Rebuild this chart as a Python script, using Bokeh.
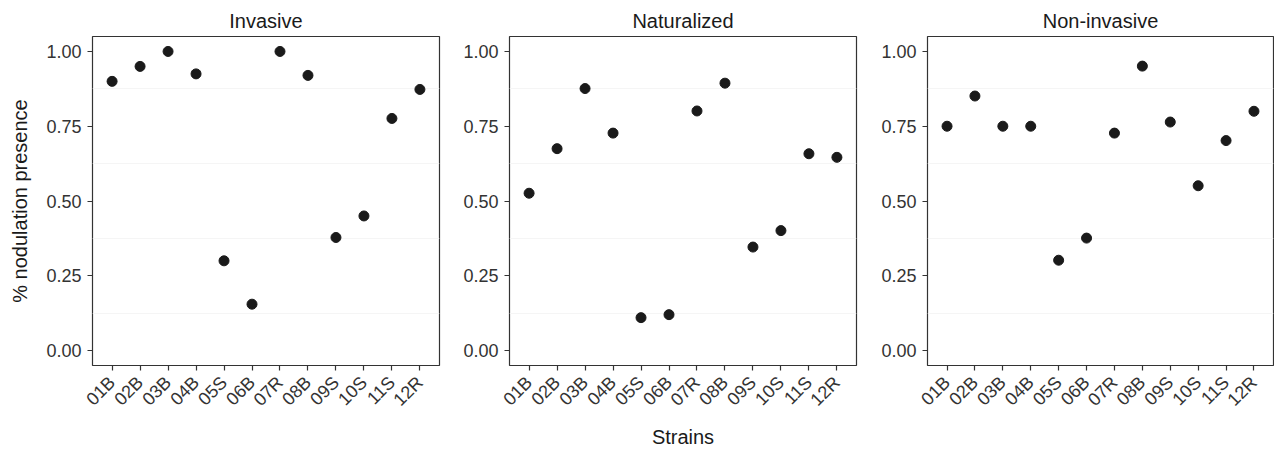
import math
from bokeh.plotting import figure
from bokeh.models import FactorRange, Range1d, FixedTicker
from bokeh.layouts import row
from bokeh.embed import file_html
from bokeh.resources import INLINE

# ---------------- data ----------------
strains = ["01B", "02B", "03B", "04B", "05S", "06B", "07R", "08B", "09S", "10S", "11S", "12R"]
panel_titles = ["Invasive", "Naturalized", "Non-invasive"]
invasive = [0.90, 0.95, 1.00, 0.925, 0.30, 0.155, 1.00, 0.92, 0.378, 0.45, 0.776, 0.873]
naturalized = [0.526, 0.675, 0.876, 0.727, 0.110, 0.120, 0.801, 0.894, 0.346, 0.401, 0.658, 0.646]
non_invasive = [0.75, 0.851, 0.75, 0.75, 0.302, 0.376, 0.727, 0.951, 0.764, 0.551, 0.702, 0.80]
y_ticks = [0.0, 0.25, 0.5, 0.75, 1.0]
y_tick_labels = ["0.00", "0.25", "0.50", "0.75", "1.00"]
y_minor = [0.125, 0.375, 0.625, 0.875]
y_label = "% nodulation presence"
x_label = "Strains"

FONT = "Liberation Sans"
TEXT = "#1a1a1a"
TICKTXT = "#333333"
series = [invasive, naturalized, non_invasive]

# per-panel layout: (width, min_border_left, min_border_right)
dims = [(455, 92, 16), (419, 54, 18), (400, 53, 1)]
HEIGHT = 450
TOP = 36
BOTTOM = HEIGHT - TOP - 339


def make_panel(i):
    w, bl, br = dims[i]
    p = figure(width=w, height=HEIGHT, output_backend="svg", toolbar_location=None,
               x_range=FactorRange(factors=strains, range_padding=0.2, range_padding_units="absolute"),
               y_range=Range1d(-0.05, 1.05),
               min_border_left=bl, min_border_right=br, min_border_top=TOP, min_border_bottom=BOTTOM,
               tools="")
    p.title.text = panel_titles[i]
    p.title.align = "center"
    p.title.text_font = FONT
    p.title.text_font_size = "20px"
    p.title.text_font_style = "normal"
    p.title.text_color = TEXT
    p.title.standoff = 9

    p.background_fill_color = "white"
    p.border_fill_color = "white"
    p.outline_line_color = "#333333"
    p.outline_line_width = 1.2

    p.xgrid.grid_line_color = None
    p.ygrid.grid_line_color = None
    p.ygrid.minor_grid_line_color = "#f5f5f5"
    p.ygrid.minor_grid_line_width = 1

    p.yaxis.ticker = FixedTicker(ticks=y_ticks, minor_ticks=y_minor)
    p.yaxis.major_label_overrides = {t: lab for t, lab in zip(y_ticks, y_tick_labels)}

    for ax in (p.xaxis[0], p.yaxis[0]):
        ax.axis_line_color = None
        ax.major_tick_line_color = "#333333"
        ax.major_tick_line_width = 1.2
        ax.major_tick_in = 0
        ax.major_tick_out = 5
        ax.minor_tick_line_color = None
        ax.major_label_text_font = FONT
        ax.major_label_text_font_size = "18px"
        ax.major_label_text_color = TICKTXT
        ax.axis_label_text_font = FONT
        ax.axis_label_text_font_size = "20px"
        ax.axis_label_text_font_style = "normal"
        ax.axis_label_text_color = TEXT

    p.xaxis.major_label_orientation = math.pi / 4
    p.xaxis.major_label_standoff = 9
    p.yaxis.major_label_standoff = 6

    if i == 0:
        p.yaxis.axis_label = y_label
        p.yaxis.axis_label_standoff = 12
    if i == 1:
        p.xaxis.axis_label = x_label
        p.xaxis.axis_label_standoff = 6

    p.scatter(x=strains, y=series[i], size=10, color="#1a1a1a", line_color="#1a1a1a")
    return p


panels = [make_panel(i) for i in range(3)]
layout = row(*panels, spacing=0)

open("out.html", "w").write(file_html(layout, INLINE))
